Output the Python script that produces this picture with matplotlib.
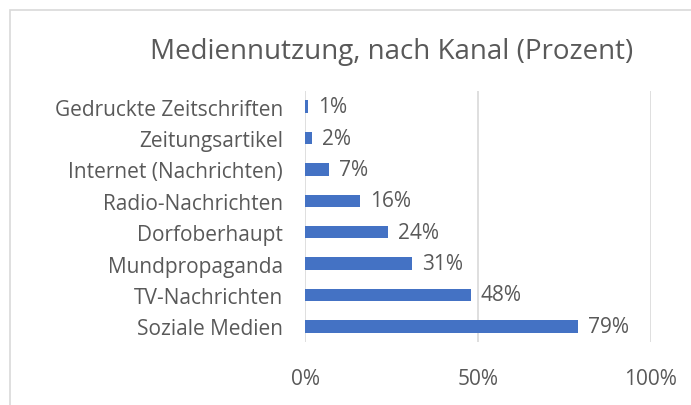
import matplotlib.pyplot as plt
from matplotlib.patches import Rectangle

# data, top to bottom as shown in the chart
categories = ["Gedruckte Zeitschriften", "Zeitungsartikel", "Internet (Nachrichten)",
              "Radio-Nachrichten", "Dorfoberhaupt", "Mundpropaganda",
              "TV-Nachrichten", "Soziale Medien"]
values = [1, 2, 7, 16, 24, 31, 48, 79]
xticks = [0, 50, 100]
xtick_labels = ["0%", "50%", "100%"]

text_col = "#595959"
bar_col = "#4472C4"
grid_col = "#D9D9D9"

plt.rcParams['font.family'] = ['Open Sans', 'DejaVu Sans']

fig = plt.figure(figsize=(6.91, 4.06), dpi=100)

# chart frame (Excel style border, cut by the image edges)
fig.patches.append(Rectangle((10 / 691, -0.05), 1.0, 1 - 11 / 406 + 0.05,
                             transform=fig.transFigure, fill=False,
                             edgecolor="#D9D9D9", linewidth=1.2))

ax = fig.add_axes([305 / 691, 1 - 343 / 406, (651 - 305) / 691, (343 - 92) / 406])

ypos = list(range(len(categories)))
ax.barh(ypos, values, height=0.4, color=bar_col)

fs = 15

# value labels
for y, v in zip(ypos, values):
    ax.text(v + 2.8, y, f"{v}%", va="center", ha="left", fontsize=fs, color=text_col)

ax.set_xlim(0, 100)
ax.set_ylim(len(categories) - 0.5, -0.5)
ax.set_yticks(ypos)
ax.set_yticklabels(categories, fontsize=fs, color=text_col)
ax.set_xticks(xticks)
ax.set_xticklabels(xtick_labels, fontsize=fs, color=text_col)
ax.tick_params(length=0)
ax.tick_params(axis="y", pad=16)
ax.tick_params(axis="x", pad=19)

ax.grid(axis="x", color=grid_col, linewidth=1.2)
ax.set_axisbelow(True)
for s in ax.spines.values():
    s.set_visible(False)

fig.text(392 / 691, 1 - 52 / 406, "Mediennutzung, nach Kanal (Prozent)",
         ha="center", va="center", fontsize=20, color=text_col)

fig.savefig("out.png", dpi=100)
